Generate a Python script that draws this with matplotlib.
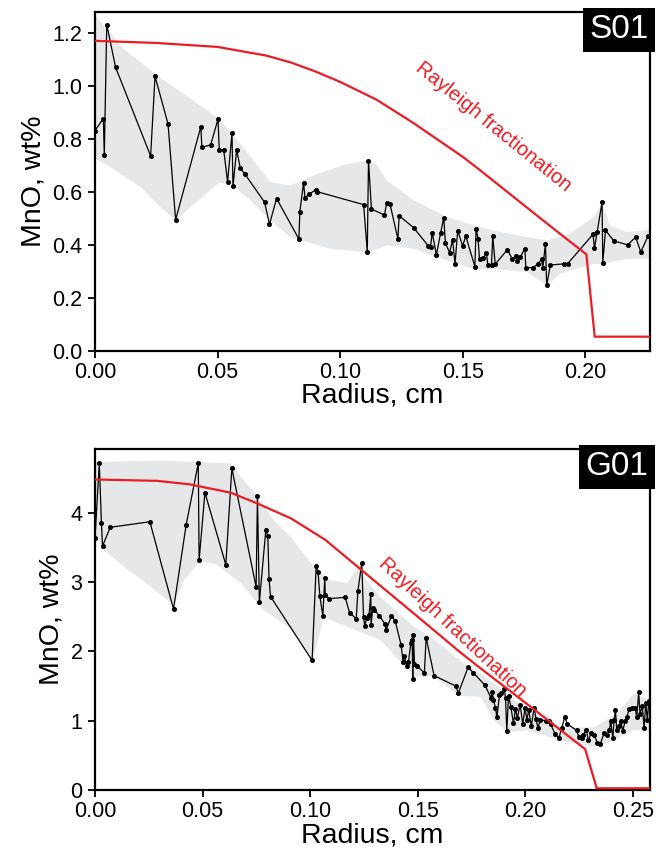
import numpy as np
import matplotlib
matplotlib.use("Agg")
import matplotlib.pyplot as plt

plt.rcParams['font.family'] = ['Liberation Sans', 'DejaVu Sans']

# ---- S01 (top) ----
s01_r = [0.0, 0.0034, 0.0038, 0.0048, 0.0084, 0.0227, 0.0245, 0.0298, 0.0329, 0.0432,
         0.0436, 0.0472, 0.0502, 0.0507, 0.0525, 0.0541, 0.0559, 0.0563, 0.0578, 0.0593,
         0.0612, 0.0692, 0.0712, 0.0741, 0.0832, 0.0836, 0.0851, 0.0857, 0.0873, 0.0901,
         0.0906, 0.1096, 0.1111, 0.1116, 0.1128, 0.1181, 0.1190, 0.1204, 0.1236, 0.1241,
         0.1300, 0.1359, 0.1369, 0.1376, 0.1393, 0.1410, 0.1423, 0.1430, 0.1447, 0.1459,
         0.1469, 0.1480, 0.1500, 0.1513, 0.1550, 0.1555, 0.1563, 0.1569, 0.1584, 0.1597,
         0.1603, 0.1618, 0.1623, 0.1633, 0.1683, 0.1702, 0.1717, 0.1723, 0.1735, 0.1754,
         0.1758, 0.1788, 0.1807, 0.1822, 0.1827, 0.1838, 0.1843, 0.1858, 0.1913, 0.1928,
         0.2032, 0.2038, 0.2049, 0.2069, 0.2072, 0.2083, 0.2117, 0.2173, 0.2206, 0.2227,
         0.2257]
s01_mno = [0.832, 0.877, 0.739, 1.232, 1.071, 0.736, 1.037, 0.857, 0.495, 0.847,
           0.768, 0.778, 0.875, 0.759, 0.760, 0.638, 0.822, 0.622, 0.758, 0.690,
           0.667, 0.561, 0.478, 0.575, 0.422, 0.526, 0.634, 0.578, 0.591, 0.608,
           0.601, 0.552, 0.374, 0.717, 0.535, 0.513, 0.557, 0.553, 0.422, 0.510,
           0.465, 0.397, 0.391, 0.446, 0.362, 0.444, 0.503, 0.406, 0.371, 0.420,
           0.328, 0.454, 0.396, 0.433, 0.318, 0.461, 0.423, 0.345, 0.349, 0.369,
           0.323, 0.323, 0.435, 0.327, 0.382, 0.347, 0.358, 0.339, 0.353, 0.386,
           0.314, 0.314, 0.328, 0.345, 0.313, 0.403, 0.247, 0.324, 0.328, 0.328,
           0.440, 0.387, 0.449, 0.561, 0.333, 0.455, 0.415, 0.400, 0.429, 0.373,
           0.434]

s01_band_up_r = [0.0, 0.0115, 0.0252, 0.0388, 0.0503, 0.0591, 0.0714, 0.0795, 0.089,
                 0.1026, 0.1115, 0.1149, 0.119, 0.1298, 0.1434, 0.1570, 0.1624, 0.1761,
                 0.1842, 0.1937, 0.2032, 0.2066, 0.21, 0.2168, 0.2265]
s01_band_up = [1.269, 1.143, 1.042, 0.954, 0.879, 0.784, 0.639, 0.626, 0.664,
               0.708, 0.721, 0.702, 0.645, 0.570, 0.507, 0.469, 0.456, 0.431,
               0.419, 0.444, 0.507, 0.557, 0.475, 0.450, 0.459]
s01_band_lo_r = [0.0, 0.0061, 0.0184, 0.0265, 0.0329, 0.0387, 0.0503, 0.0551, 0.0632,
                 0.0714, 0.0795, 0.0836, 0.0958, 0.111, 0.119, 0.1298, 0.1434, 0.1543,
                 0.1624, 0.1761, 0.1842, 0.1896, 0.2032, 0.2073, 0.2168, 0.2265]
s01_band_lo = [0.727, 0.696, 0.620, 0.544, 0.494, 0.544, 0.635, 0.633, 0.570,
               0.494, 0.431, 0.419, 0.387, 0.374, 0.400, 0.387, 0.343, 0.311,
               0.311, 0.299, 0.248, 0.293, 0.330, 0.330, 0.349, 0.349]

s01_ray_r = [0.0, 0.025, 0.05, 0.07, 0.08, 0.09, 0.10, 0.115, 0.13, 0.15, 0.157,
             0.175, 0.19, 0.2005, 0.2039, 0.2265]
s01_ray = [1.171, 1.163, 1.148, 1.115, 1.089, 1.055, 1.016, 0.948, 0.86, 0.733, 0.683,
           0.55, 0.44, 0.364, 0.053, 0.053]

# ---- G01 (bottom) ----
g01_r = [0.0, 0.002, 0.003, 0.0035, 0.0071, 0.0255, 0.0365, 0.0424, 0.0480, 0.0484,
         0.0511, 0.0608, 0.0636, 0.0749, 0.0755, 0.0764, 0.0794, 0.0803, 0.0809, 0.0816,
         0.1009, 0.1028, 0.1037, 0.1045, 0.1059, 0.1068, 0.1070, 0.1088, 0.1163, 0.1183,
         0.1214, 0.1222, 0.1240, 0.1248, 0.1254, 0.1263, 0.1274, 0.1282, 0.1283, 0.1291,
         0.1299, 0.1322, 0.1349, 0.1353, 0.1378, 0.1395, 0.1423, 0.1432, 0.1437, 0.1449,
         0.1457, 0.1468, 0.1474, 0.1477, 0.1480, 0.1485, 0.1496, 0.1531, 0.1539, 0.1576,
         0.1677, 0.1689, 0.1734, 0.1759, 0.1813, 0.1840, 0.1846, 0.1852, 0.1861, 0.1868,
         0.1880, 0.1889, 0.1903, 0.1908, 0.1914, 0.1922, 0.1933, 0.1945, 0.1954, 0.1963,
         0.1976, 0.1988, 0.1999, 0.2007, 0.2016, 0.2028, 0.2041, 0.2050, 0.2059, 0.2069,
         0.2097, 0.2112, 0.2118, 0.2138, 0.2156, 0.2169, 0.2183, 0.2196, 0.2239, 0.2249,
         0.2262, 0.2270, 0.2283, 0.2293, 0.2307, 0.2321, 0.2335, 0.2348, 0.2366, 0.2379,
         0.2391, 0.2397, 0.2407, 0.2413, 0.2419, 0.2425, 0.2434, 0.2444, 0.2453, 0.2464,
         0.2472, 0.2484, 0.2495, 0.2510, 0.2518, 0.2527, 0.2533, 0.2544, 0.2552, 0.2560,
         0.2567, 0.2574]
g01_mno = [3.63, 4.715, 3.85, 3.52, 3.79, 3.87, 2.61, 3.83, 4.715, 3.32,
           4.29, 3.25, 4.64, 2.93, 4.24, 2.71, 3.75, 3.67, 3.04, 2.79,
           1.87, 3.23, 3.14, 2.80, 2.51, 3.06, 2.82, 2.76, 2.78, 2.56,
           2.47, 2.87, 3.28, 2.50, 2.37, 2.48, 2.53, 2.83, 2.38, 2.63,
           2.60, 2.51, 2.39, 2.31, 2.51, 2.44, 2.09, 1.84, 1.94, 1.79,
           1.85, 2.12, 2.16, 1.60, 2.24, 1.82, 1.79, 1.69, 2.20, 1.65,
           1.50, 1.40, 1.77, 1.69, 1.51, 1.33, 1.41, 1.30, 1.19, 1.05,
           1.37, 1.40, 1.45, 1.33, 0.85, 1.36, 1.20, 0.96, 1.17, 1.04,
           1.23, 0.95, 1.19, 1.01, 1.15, 0.92, 1.19, 1.02, 0.89, 1.01,
           1.00, 1.00, 0.95, 0.81, 0.75, 0.89, 1.05, 0.95, 0.86, 0.76,
           0.75, 0.79, 0.87, 0.72, 0.82, 0.79, 0.68, 0.66, 0.82, 0.79,
           0.87, 1.00, 0.75, 1.01, 1.15, 0.86, 0.92, 0.99, 0.85, 1.00,
           1.06, 1.17, 1.18, 1.19, 1.05, 1.41, 1.10, 1.21, 0.89, 1.26,
           1.01, 1.28]

g01_band_up_r = [0.0, 0.0288, 0.0628, 0.0675, 0.0752, 0.0829, 0.0907, 0.1015, 0.1093,
                 0.117, 0.1232, 0.1248, 0.1325, 0.148, 0.1558, 0.1712, 0.179, 0.1852,
                 0.2007, 0.2162, 0.2316, 0.2425, 0.2502, 0.258]
g01_band_up = [4.74, 4.76, 4.72, 4.53, 4.24, 3.90, 3.66, 3.23, 3.03,
               2.99, 3.28, 3.08, 2.79, 2.36, 2.22, 1.83, 1.69, 1.54,
               1.16, 0.91, 0.91, 1.11, 1.40, 1.30]
g01_band_lo_r = [0.0, 0.004, 0.0132, 0.0257, 0.0365, 0.0411, 0.0489, 0.0566, 0.0675,
                 0.0783, 0.0907, 0.1009, 0.1062, 0.117, 0.1325, 0.148, 0.1573, 0.1689,
                 0.179, 0.1852, 0.1914, 0.2007, 0.2162, 0.2316, 0.2394, 0.2502, 0.258]
g01_band_lo = [3.66, 3.47, 3.23, 2.94, 2.67, 3.03, 3.32, 3.25, 2.99,
               2.60, 2.34, 1.87, 2.50, 2.36, 2.17, 1.64, 1.64, 1.37,
               1.35, 1.01, 0.84, 0.87, 0.72, 0.63, 0.70, 0.87, 0.87]

g01_ray_r = [0.0, 0.029, 0.044, 0.063, 0.075, 0.091, 0.107, 0.124, 0.15, 0.17, 0.179,
             0.2, 0.2278, 0.2332, 0.258]
g01_ray = [4.48, 4.46, 4.41, 4.29, 4.14, 3.92, 3.61, 3.17, 2.50, 1.98, 1.76,
           1.26, 0.59, 0.025, 0.025]

RED = '#ec1c24'
BAND = '#e6e7e8'


def panel(ax, r, mno, up_r, up, lo_r, lo, ray_r, ray, xmax, ymax, yticks, fmt, name,
          txt_xy, txt_rot):
    grid = np.union1d(up_r, lo_r)
    ax.fill_between(grid, np.interp(grid, lo_r, lo), np.interp(grid, up_r, up),
                    color=BAND, lw=0, zorder=1)
    ax.plot(r, mno, color='black', lw=0.9, marker='o', ms=2.6, zorder=3)
    ax.plot(ray_r, ray, color=RED, lw=1.6, zorder=4)
    ax.text(txt_xy[0], txt_xy[1], 'Rayleigh fractionation', color=RED, fontsize=14.5,
            rotation=txt_rot, rotation_mode='anchor', ha='center', va='center', zorder=5)
    ax.set_xlim(0, xmax)
    ax.set_ylim(0, ymax)
    ax.set_yticks(yticks)
    ax.set_yticklabels([fmt.format(v) for v in yticks])
    ax.set_xticks(np.arange(0, xmax, 0.05))
    ax.set_xticklabels(['{:.2f}'.format(v) for v in np.arange(0, xmax, 0.05)])
    ax.tick_params(direction='out', length=5, width=1.3, labelsize=15.5)
    ax.tick_params(axis='x', pad=3)
    ax.tick_params(axis='y', pad=4)
    for s in ax.spines.values():
        s.set_linewidth(1.6)
    ax.set_xlabel('Radius, cm', fontsize=20.5, labelpad=0)
    ax.set_ylabel('MnO, wt%', fontsize=20.5, labelpad=4)
    ax.text(0.997, 0.993, name, transform=ax.transAxes, ha='right', va='top',
            color='white', fontsize=24, zorder=6,
            bbox=dict(facecolor='black', edgecolor='none', boxstyle='square,pad=0.2'))


fig = plt.figure(figsize=(6.68, 8.56), dpi=100)
ax1 = fig.add_axes([0.1422, 0.5903, 0.831, 0.3957])
ax2 = fig.add_axes([0.1422, 0.0771, 0.831, 0.3984])

panel(ax1, s01_r, s01_mno, s01_band_up_r, s01_band_up, s01_band_lo_r, s01_band_lo,
      s01_ray_r, s01_ray, 0.2265, 1.28, [0, 0.2, 0.4, 0.6, 0.8, 1.0, 1.2], '{:.1f}', 'S01',
      (0.1625, 0.845), -39)
panel(ax2, g01_r, g01_mno, g01_band_up_r, g01_band_up, g01_band_lo_r, g01_band_lo,
      g01_ray_r, g01_ray, 0.258, 4.92, [0, 1, 2, 3, 4], '{:.0f}', 'G01',
      (0.166, 2.35), -43)

fig.savefig('out.png', dpi=100)
